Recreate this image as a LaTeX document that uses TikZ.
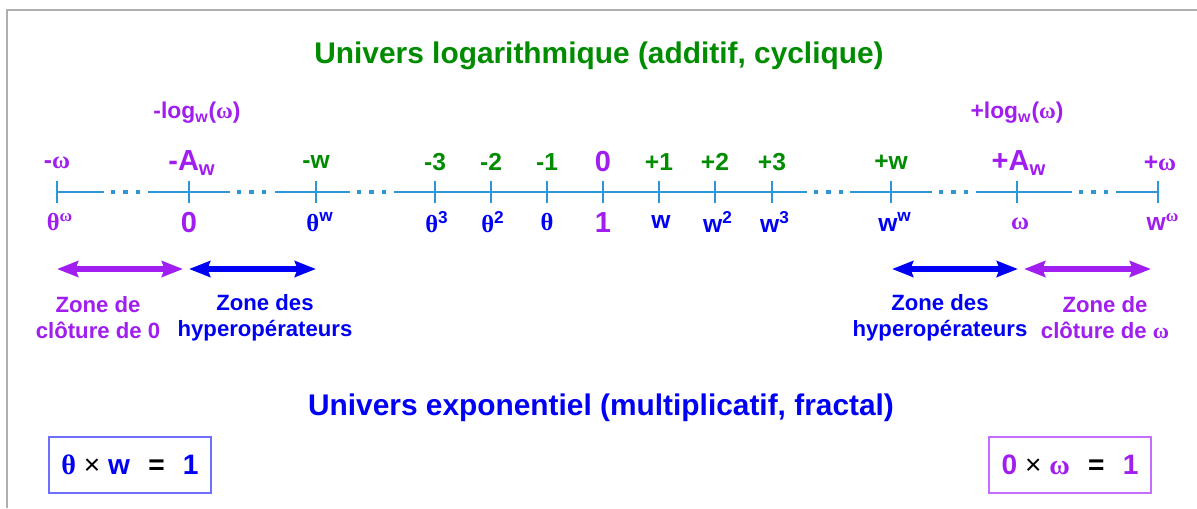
\documentclass[tikz,border=0pt]{standalone}
\usepackage{fontspec}
\setmainfont{Liberation Sans}
\newfontfamily\grk{Liberation Serif}
\usetikzlibrary{arrows.meta,positioning}
\definecolor{axisblue}{RGB}{45,150,215}
\definecolor{green}{RGB}{0,140,0}
\definecolor{violet}{RGB}{160,30,240}
\definecolor{blue}{RGB}{0,0,245}
\definecolor{boxblue}{RGB}{110,110,255}
\definecolor{boxviolet}{RGB}{195,110,255}
\definecolor{framegray}{RGB}{175,175,175}
\newcommand{\omg}{{\grk ω}}
\newcommand{\tht}{{\grk θ}}

\begin{document}
\begin{tikzpicture}[x=0.02cm, y=-0.02cm, font=\bfseries,
axisline/.style={draw=axisblue, line width=1.4pt},
tickmark/.style={draw=axisblue, line width=0.9pt},
toplbl/.style={font=\bfseries\fontsize{14}{16}\selectfont, inner sep=0pt},
loglbl/.style={font=\bfseries\fontsize{13}{15}\selectfont, inner sep=0pt},
biglbl/.style={font=\bfseries\fontsize{16.5}{18}\selectfont, inner sep=0pt},
zone/.style={font=\bfseries\fontsize{12.6}{14.8}\selectfont, align=center, inner sep=0pt},
headline/.style={font=\bfseries\fontsize{17}{20}\selectfont, inner sep=0pt},
zarrow/.style={{Stealth[length=12pt,width=9pt,inset=1.5pt]}-{Stealth[length=12pt,width=9pt,inset=1.5pt]}, line width=3pt},
eqbox/.style={draw, line width=0.9pt, inner sep=0pt, minimum width=3.24cm, minimum height=1.12cm, font=\bfseries\fontsize{16}{18}\selectfont}]
\useasboundingbox (0,0) rectangle (1197,508);
% frame (cut on the right and at the bottom)
\draw[framegray, line width=1.2pt] (1197,10) -- (7,10) -- (7,508);

\node[headline, green] (logtitle) at (599,56) {Univers logarithmique (additif, cyclique)};
\node[headline, blue] (exptitle) at (601,408) {Univers exponentiel (multiplicatif, fractal)};

% axis
\foreach \a/\b in {57/104,148/230,275/350,394/807,850/932,976/1072,1116/1158}
  \draw[axisline] (\a,192) -- (\b,192);
\foreach \s in {104,230,350,807,932,1072}
  \foreach \d in {9,21.5,34}
    \fill[axisblue] (\s+\d-2.3,190) rectangle ++(4.6,4.2);
\foreach \x in {57,189,316,435,491,547,603,659,715,772,891,1017,1158}
  \draw[tickmark] (\x,181) -- (\x,203);

% labels above
\node[loglbl, violet] (mlog) at (197,113) {-log\textsubscript{w}(\omg)};
\node[loglbl, violet] (plog) at (1017,113) {+log\textsubscript{w}(\omg)};
\node[toplbl, violet] (momega) at (57,163) {-\omg};
\node[biglbl, violet] (maw) at (192,163) {-A\textsubscript{w}};
\node[toplbl, green] (mw) at (316,162) {-w};
\node[toplbl, green] (m3) at (435,162) {-3};
\node[toplbl, green] (m2) at (491,162) {-2};
\node[toplbl, green] (m1) at (547,162) {-1};
\node[biglbl, violet] (zero) at (603,162) {0};
\node[toplbl, green] (p1) at (659,162) {+1};
\node[toplbl, green] (p2) at (715,162) {+2};
\node[toplbl, green] (p3) at (772,162) {+3};
\node[toplbl, green] (pw) at (891,162) {+w};
\node[biglbl, violet] (paw) at (1019,163) {+A\textsubscript{w}};
\node[toplbl, violet] (pomega) at (1160,163) {+\omg};

% labels below
\node[toplbl, violet] (thom) at (60,222) {\tht\textsuperscript{\omg}};
\node[biglbl, violet] (nul) at (189,223) {0};
\node[toplbl, blue] (thw) at (320,222) {\tht\textsuperscript{w}};
\node[toplbl, blue] (th3) at (437,222) {\tht\textsuperscript{3}};
\node[toplbl, blue] (th2) at (493,222) {\tht\textsuperscript{2}};
\node[toplbl, blue] (th1) at (547,222) {\tht};
\node[biglbl, violet] (one) at (603,223) {1};
\node[toplbl, blue] (w1) at (661,222) {w};
\node[toplbl, blue] (w2) at (718,222) {w\textsuperscript{2}};
\node[toplbl, blue] (w3) at (775,222) {w\textsuperscript{3}};
\node[toplbl, blue] (ww) at (895,222) {w\textsuperscript{w}};
\node[toplbl, violet] (omega) at (1020,224) {\omg};
\node[toplbl, violet] (wom) at (1163,222) {w\textsuperscript{\omg}};

% zones
\coordinate (za) at (57,269);
\coordinate (zb) at (183,269);
\coordinate (zc) at (189,269);
\coordinate (zd) at (316,269);
\coordinate (ze) at (892,269);
\coordinate (zf) at (1018,269);
\coordinate (zg) at (1024,269);
\coordinate (zh) at (1151,269);
\draw[zarrow, violet] (za) -- (zb);
\draw[zarrow, blue] (zc) -- (zd);
\draw[zarrow, blue] (ze) -- (zf);
\draw[zarrow, violet] (zg) -- (zh);
\node[zone, violet] (clotzero) at (98,318) {Zone de\\clôture de 0};
\node[zone, blue] (hypleft) at (265,318) {Zone des\\hyperopérateurs};
\node[zone, blue] (hypright) at (940,318) {Zone des\\hyperopérateurs};
\node[zone, violet] (clotomega) at (1105,318) {Zone de\\clôture de \omg};

% identities
\node[eqbox, draw=boxblue] (eqleft) at (130,465)
  {\textcolor{blue}{\tht}\;{\mdseries ×}\;\textcolor{blue}{w}\hspace{0.65em}=\hspace{0.65em}\textcolor{blue}{1}};
\node[eqbox, draw=boxviolet] (eqright) at (1070,465)
  {\textcolor{violet}{0}\;{\mdseries ×}\;\textcolor{violet}{\omg}\hspace{0.65em}=\hspace{0.65em}\textcolor{violet}{1}};
\end{tikzpicture}
\end{document}
